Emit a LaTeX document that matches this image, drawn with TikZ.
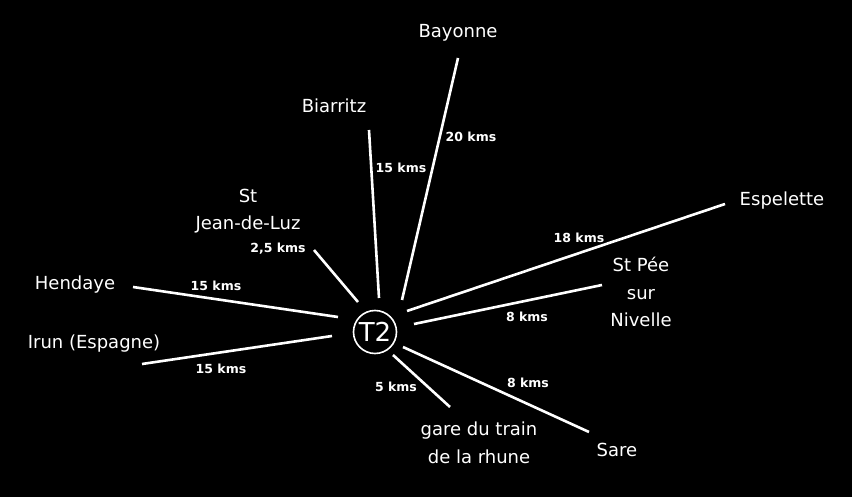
\documentclass[tikz,border=0pt]{standalone}
\usepackage{fontspec}
\newfontfamily\placefont{DejaVu Sans}
\newfontfamily\kmfont{DejaVu Sans}
\tikzset{place/.style={text=white,inner sep=0pt,align=center,font=\placefont\fontsize{18}{27.5}\selectfont},
 km/.style={text=white,inner sep=0pt,font=\kmfont\bfseries\fontsize{12.5}{14}\selectfont},
 road/.style={draw=white,line width=2.6pt},
 hub/.style={draw=white,circle,line width=1.6pt,minimum size=43pt,inner sep=0pt,text=white,font=\placefont\fontsize{26}{28}\selectfont}}

\begin{document}
\begin{tikzpicture}[x=1pt,y=-1pt]
\fill[black](0,0) rectangle (852,497);
\node[hub](t2) at(375,332){T2};
\node[place](by) at(458,33){Bayonne};
\node[place](bi) at(334,106){Biarritz};
\node[place](jl) at(248,211){St\\Jean-de-Luz};
\node[place](he) at(75,285){Hendaye};
\node[place](ir) at(94,344){Irun (Espagne)};
\node[place](es) at(782,201){Espelette};
\node[place](sp) at(641,292){St Pée\\sur\\Nivelle};
\node[place](ga) at(479,443){gare du train\\de la rhune};
\node[place](sa) at(617,450){Sare};
\node[km](kby) at(471,137){20 kms};\node[km](kbi) at(401,168){15 kms};
\node[km](kjl) at(278,249){2,5 kms};\node[km](khe) at(216,286){15 kms};
\node[km](kir) at(221,369){15 kms};\node[km](kes) at(579,238){18 kms};
\node[km](ksp) at(527,317){8 kms};\node[km](kga) at(396,387){5 kms};
\node[km](ksa) at(528,383){8 kms};
\coordinate(by1) at(458,58);\coordinate(by2) at(402,300);
\coordinate(bi1) at(369,130);\coordinate(bi2) at(379,298);
\coordinate(jl1) at(314,250);\coordinate(jl2) at(358,302);
\coordinate(he1) at(133,287);\coordinate(he2) at(338,317);
\coordinate(ir1) at(142,364);\coordinate(ir2) at(332,336);
\coordinate(es1) at(725,204);\coordinate(es2) at(407,311);
\coordinate(sp1) at(602,285);\coordinate(sp2) at(414,324);
\coordinate(sa1) at(589,432);\coordinate(sa2) at(403,347);
\coordinate(ga1) at(450,407);\coordinate(ga2) at(393,355);
\draw[road](by1)--(by2)(bi1)--(bi2)(jl1)--(jl2)(he1)--(he2)(ir1)--(ir2)
 (es1)--(es2)(sp1)--(sp2)(sa1)--(sa2)(ga1)--(ga2);
\end{tikzpicture}
\end{document}
